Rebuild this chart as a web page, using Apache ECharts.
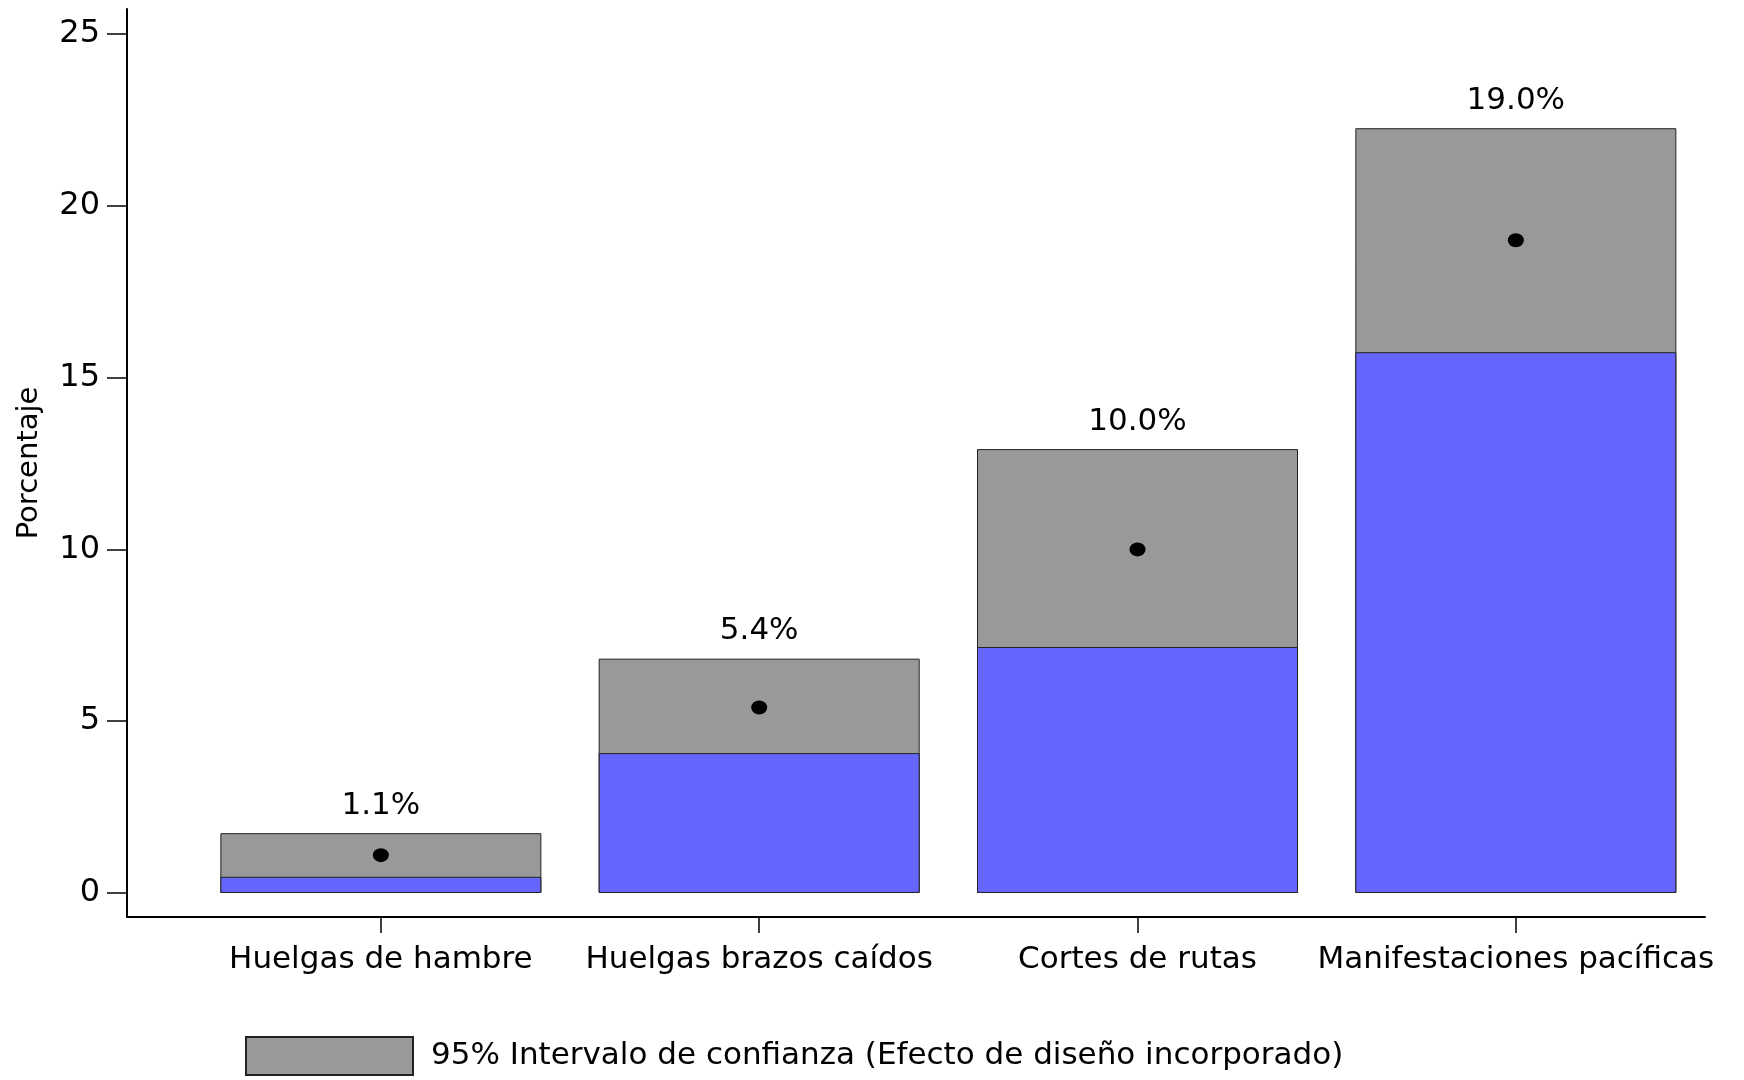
<!DOCTYPE html>
<html>
<head>
<meta charset="utf-8">
<script src="https://cdn.jsdelivr.net/npm/echarts@6/dist/echarts.min.js"></script>
<style>
  html, body { margin: 0; padding: 0; background: #ffffff; }
  #chart { width: 1744px; height: 1080px; }
</style>
</head>
<body>
<div id="chart"></div>
<script>
const categories = ['Huelgas de hambre', 'Huelgas brazos caídos', 'Cortes de rutas', 'Manifestaciones pacíficas'];
const pointValues = [1.1, 5.4, 10.0, 19.0];
const ciLower = [0.47, 4.07, 7.16, 15.74];
const ciUpper = [1.74, 6.82, 12.92, 22.26];
const yTicks = [0, 5, 10, 15, 20, 25];
const legendLabel = '95% Intervalo de confianza (Efecto de diseño incorporado)';

const catIdx = categories.map((c, i) => i);
const FONT = 'DejaVu Sans';

const chart = echarts.init(document.getElementById('chart'), null, { renderer: 'canvas' });

const option = {
  backgroundColor: '#ffffff',
  animation: false,
  grid: { left: 127, right: 39, top: 9, bottom: 163, containLabel: false },
  legend: {
    show: true,
    data: [legendLabel],
    left: 245,
    top: 1036,
    padding: 0,
    itemWidth: 167,
    itemHeight: 38,
    icon: 'rect',
    selectedMode: false,
    textStyle: { fontFamily: FONT, fontSize: 31, color: '#000', padding: [12, 0, 0, 13] }
  },
  xAxis: {
    type: 'value',
    min: -0.671,
    max: 3.5,
    splitLine: { show: false },
    axisLine: { show: true, onZero: false, lineStyle: { color: '#000', width: 2 } },
    axisTick: { show: true, inside: false, length: 16, customValues: catIdx, lineStyle: { color: '#000', width: 1.5 } },
    axisLabel: {
      show: true,
      customValues: catIdx,
      margin: 27,
      fontFamily: FONT,
      fontSize: 31,
      color: '#000',
      formatter: v => categories[Math.round(v)] || ''
    }
  },
  yAxis: {
    type: 'value',
    min: -0.7,
    max: 25.73,
    name: 'Porcentaje',
    nameLocation: 'middle',
    nameRotate: 90,
    nameGap: 83,
    nameTextStyle: { fontFamily: FONT, fontSize: 29, color: '#000' },
    splitLine: { show: false },
    axisLine: { show: true, onZero: false, lineStyle: { color: '#000', width: 2 } },
    axisTick: { show: true, inside: false, length: 20, customValues: yTicks, lineStyle: { color: '#000', width: 1.5 } },
    axisLabel: {
      show: true,
      customValues: yTicks,
      margin: 27,
      fontFamily: FONT,
      fontSize: 32,
      color: '#000'
    }
  },
  series: [
    {
      name: legendLabel,
      type: 'bar',
      barWidth: 321,
      data: catIdx.map(i => [i, ciUpper[i]]),
      itemStyle: { color: '#999999', borderColor: '#222', borderWidth: 1 },
      label: {
        show: true,
        position: 'top',
        distance: 12,
        fontFamily: FONT,
        fontSize: 31,
        color: '#000',
        formatter: p => pointValues[p.dataIndex].toFixed(1) + '%'
      },
      emphasis: { disabled: true },
      silent: true
    },
    {
      name: 'base',
      type: 'bar',
      barWidth: 321,
      barGap: '-100%',
      data: catIdx.map(i => [i, ciLower[i]]),
      itemStyle: { color: '#6666ff', borderColor: '#222', borderWidth: 1 },
      emphasis: { disabled: true },
      silent: true
    },
    {
      name: 'punto',
      type: 'scatter',
      symbol: 'circle',
      symbolSize: [16, 14],
      data: catIdx.map(i => [i, pointValues[i]]),
      itemStyle: { color: '#000', opacity: 1 },
      z: 5,
      silent: true
    }
  ]
};

chart.setOption(option);
</script>
</body>
</html>
